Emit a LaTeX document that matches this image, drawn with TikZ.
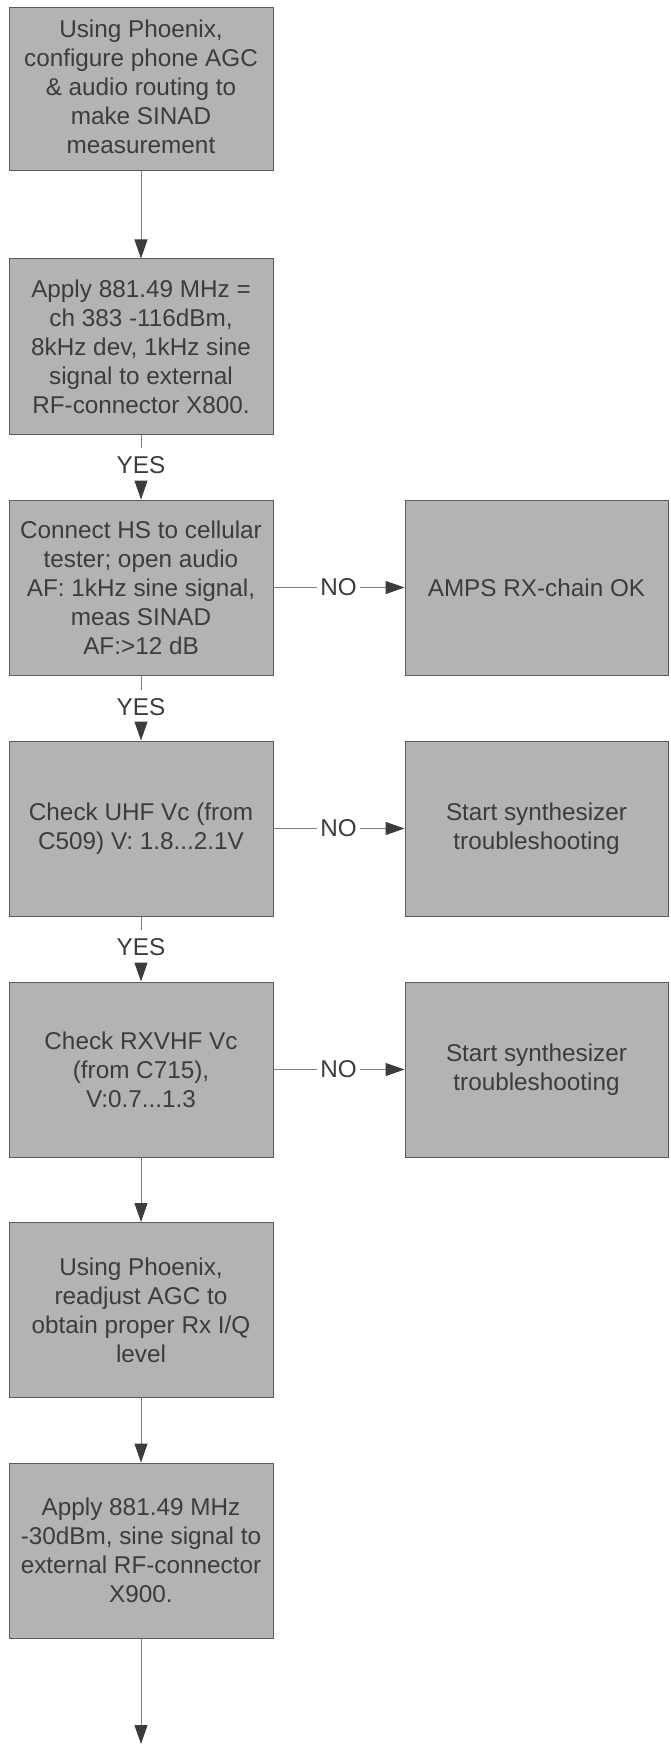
\documentclass[tikz,border=0pt]{standalone}
\usepackage{fontspec}
\setmainfont{Liberation Sans}
\usetikzlibrary{arrows.meta}
\definecolor{boxfill}{HTML}{B3B3B3}
\definecolor{boxline}{HTML}{5A5A5A}
\definecolor{txt}{HTML}{3C3C3C}
\definecolor{conn}{HTML}{808080}
\tikzset{
  stepbox/.style={draw=boxline, fill=boxfill, line width=1pt, text=txt,
    minimum width=264pt, minimum height=175pt, align=center, inner sep=2pt,
    font=\fontsize{24.3}{29}\selectfont},
  lbl/.style={text=txt, inner xsep=3pt, inner ysep=8.5pt, font=\fontsize{24.3}{29}\selectfont},
  conline/.style={draw=conn, line width=1pt},
  arr/.style={conline, -{Triangle[length=19pt, width=13pt, color=txt]}}
}
\begin{document}
\begin{tikzpicture}[x=1pt, y=-1pt]
\useasboundingbox (0,0) rectangle (671,1744);
\node[stepbox, minimum height=163pt] (b1) at (141,89.5) {\raisebox{6pt}{\begin{tabular}{@{}c@{}}Using Phoenix,\\configure phone AGC\\\& audio routing to\\make SINAD\\measurement\end{tabular}}};
\node[stepbox] (b2) at (141,346.5) {Apply 881.49 MHz =\\ch 383 -116dBm,\\8kHz dev, 1kHz sine\\signal to external\\RF-connector X800.};
\node[stepbox] (b3) at (141,587.5) {Connect HS to cellular\\tester; open audio\\AF: 1kHz sine signal,\\meas SINAD\\AF:>12 dB};
\node[stepbox] (b4) at (141,828.5) {Check UHF Vc (from\\C509) V: 1.8...2.1V};
\node[stepbox] (b5) at (141,1069.5) {Check RXVHF Vc\\(from C715),\\V:0.7...1.3};
\node[stepbox] (b6) at (141,1310) {Using Phoenix,\\readjust AGC to\\obtain proper Rx I/Q\\level};
\node[stepbox] (b7) at (141,1550.5) {Apply 881.49 MHz\\-30dBm, sine signal to\\external RF-connector\\X900.};
\node[stepbox, minimum width=263pt] (r1) at (536.5,587.5) {AMPS RX-chain OK};
\node[stepbox, minimum width=263pt] (r2) at (536.5,828.5) {Start synthesizer\\troubleshooting};
\node[stepbox, minimum width=263pt] (r3) at (536.5,1069.5) {Start synthesizer\\troubleshooting};
\node[lbl] (y1) at (141,465.5) {YES};
\node[lbl] (y2) at (141,707.5) {YES};
\node[lbl] (y3) at (141,947.5) {YES};
\node[lbl] (n1) at (338.5,587.5) {NO};
\node[lbl] (n2) at (338.5,828.5) {NO};
\node[lbl] (n3) at (338.5,1069.5) {NO};
\coordinate (end) at (141,1744);
\draw[arr] (b1.south) -- (b2.north);
\draw[conline] (b2.south) -- (y1.north);
\draw[arr] (y1.south) -- (b3.north);
\draw[conline] (b3.south) -- (y2.north);
\draw[arr] (y2.south) -- (b4.north);
\draw[conline] (b4.south) -- (y3.north);
\draw[arr] (y3.south) -- (b5.north);
\draw[arr] (b5.south) -- (b6.north);
\draw[arr] (b6.south) -- (b7.north);
\draw[arr] (b7.south) -- (end);
\draw[conline] (b3.east) -- (n1.west);
\draw[arr] (n1.east) -- (r1.west);
\draw[conline] (b4.east) -- (n2.west);
\draw[arr] (n2.east) -- (r2.west);
\draw[conline] (b5.east) -- (n3.west);
\draw[arr] (n3.east) -- (r3.west);
\end{tikzpicture}
\end{document}
